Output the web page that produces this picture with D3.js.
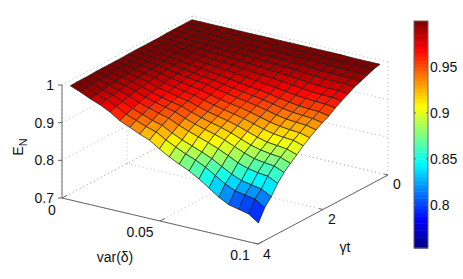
<!DOCTYPE html>
<meta charset="utf-8">
<title>E_N surface</title>
<head>
    <script src="https://d3js.org/d3.v7.min.js"></script>
</head>
<body style="margin: 0px; background: #fff">
<script>

    var varValues = d3.range(20).map(function (i) { return i * 0.00505; });
    var tValues = d3.range(20).map(function (j) { return j * 0.197; });
    var varTicks = [0, 0.05, 0.1];
    var varTickLabels = ["0", "0.05", "0.1"];
    var tTicks = [0, 2, 4];
    var zTicks = [0.7, 0.8, 0.9, 1];
    var barTicks = [0.8, 0.85, 0.9, 0.95];

    // one row per t value, one column per var value
    var row00 = [.990,.990,.990,.990,.990,.990,.990,.990,.990,.990,.990,.990,.990,.990,.990,.990,.989,.989,.989,.989];
    var row01 = [.990,.990,.989,.989,.989,.989,.988,.988,.988,.988,.987,.987,.987,.987,.986,.986,.986,.985,.985,.985];
    var row02 = [.990,.989,.989,.988,.988,.987,.986,.986,.985,.984,.984,.983,.983,.982,.981,.980,.979,.979,.979,.978];
    var row03 = [.990,.989,.988,.987,.986,.985,.984,.983,.982,.981,.980,.979,.978,.977,.976,.974,.973,.973,.972,.971];
    var row04 = [.990,.989,.987,.986,.985,.983,.982,.981,.980,.978,.977,.976,.974,.973,.971,.969,.968,.967,.967,.965];
    var row05 = [.989,.988,.986,.985,.983,.981,.979,.978,.976,.974,.972,.970,.968,.966,.964,.961,.959,.958,.958,.955];
    var row06 = [.989,.988,.985,.984,.981,.978,.976,.974,.973,.970,.967,.965,.963,.960,.957,.954,.951,.950,.949,.946];
    var row07 = [.989,.987,.984,.982,.980,.976,.973,.971,.969,.965,.962,.959,.956,.953,.949,.945,.943,.941,.940,.936];
    var row08 = [.989,.986,.983,.981,.977,.973,.970,.967,.964,.960,.956,.952,.949,.945,.940,.936,.932,.930,.929,.924];
    var row09 = [.989,.986,.982,.979,.975,.970,.967,.963,.960,.955,.951,.947,.943,.939,.934,.928,.924,.922,.920,.915];
    var row10 = [.989,.985,.981,.978,.973,.968,.964,.960,.957,.951,.946,.941,.937,.932,.926,.920,.915,.913,.911,.905];
    var row11 = [.988,.985,.980,.976,.971,.965,.960,.956,.952,.945,.939,.934,.930,.924,.917,.910,.905,.902,.900,.893];
    var row12 = [.988,.984,.979,.974,.969,.961,.956,.951,.947,.940,.933,.927,.922,.916,.908,.900,.894,.891,.889,.881];
    var row13 = [.988,.983,.977,.972,.966,.957,.952,.946,.941,.933,.925,.919,.913,.906,.897,.888,.881,.878,.875,.866];
    var row14 = [.988,.982,.976,.970,.963,.954,.947,.941,.936,.926,.918,.911,.904,.896,.886,.876,.869,.865,.862,.852];
    var row15 = [.988,.981,.974,.968,.960,.950,.943,.936,.930,.919,.910,.902,.895,.886,.875,.864,.855,.851,.848,.837];
    var row16 = [.987,.980,.972,.965,.956,.945,.937,.929,.922,.910,.900,.891,.882,.872,.860,.847,.838,.833,.830,.817];
    var row17 = [.987,.979,.969,.962,.951,.938,.929,.919,.912,.898,.886,.876,.866,.855,.840,.826,.815,.810,.805,.791];
    var row18 = [.987,.978,.967,.959,.947,.932,.922,.912,.904,.889,.876,.864,.854,.841,.825,.809,.797,.792,.787,.771];
    var row19 = [.986,.976,.964,.954,.941,.924,.913,.901,.891,.874,.859,.846,.834,.819,.801,.783,.769,.763,.757,.739];
    var rows = [row00, row01, row02, row03, row04, row05, row06, row07, row08, row09,
        row10, row11, row12, row13, row14, row15, row16, row17, row18, row19];

    var width = 463,
            height = 279;

    var svg = d3.select("body").append("svg")
            .attr("width", width)
            .attr("height", height)
            .style("display", "block")
            .style("font-family", "'Liberation Sans', Arial, sans-serif")
            .style("font-size", "14px")
            .style("fill", "#111");

    // orthographic view: screen position is a sum of one scale per data axis
    var xVar = d3.scaleLinear().domain([0, 0.1]).range([62, 258]),
            xT = d3.scaleLinear().domain([4, 0]).range([0, 130]),
            yVar = d3.scaleLinear().domain([0, 0.1]).range([198, 244]),
            yT = d3.scaleLinear().domain([4, 0]).range([0, -69]),
            yZ = d3.scaleLinear().domain([0.7, 1]).range([0, -113]);

    function px(v, t) { return xVar(v) + xT(t); }
    function py(v, t, z) { return yVar(v) + yT(t) + yZ(z); }

    function jet(f) {
        var c = function (d) { return Math.round(255 * Math.max(0, Math.min(1, 1.5 - Math.abs(4 * f - d)))); };
        return "rgb(" + c(3) + "," + c(2) + "," + c(1) + ")";
    }
    var surfaceColor = d3.scaleLinear().domain([0.745, 0.985]).range([0, 1]).clamp(true);

    function line3d(a, b, cls) {
        return svg.append("line")
                .attr("x1", px(a[0], a[1])).attr("y1", py(a[0], a[1], a[2]))
                .attr("x2", px(b[0], b[1])).attr("y2", py(b[0], b[1], b[2]))
                .attr("class", cls);
    }

    // dotted grid on the two back walls and the floor
    zTicks.forEach(function (z) {
        line3d([0, 4, z], [0, 0, z], "grid");
        line3d([0, 0, z], [0.1, 0, z], "grid");
    });
    tTicks.forEach(function (t) {
        line3d([0, t, 0.7], [0, t, 1], "grid");
        line3d([0, t, 0.7], [0.1, t, 0.7], "grid");
    });
    varTicks.forEach(function (v) {
        line3d([v, 0, 0.7], [v, 0, 1], "grid");
        line3d([v, 4, 0.7], [v, 0, 0.7], "grid");
    });
    svg.selectAll(".grid")
            .attr("stroke", "#bbb")
            .attr("stroke-width", 1)
            .attr("stroke-dasharray", "1 3");

    // solid axes and ticks
    line3d([0, 4, 0.7], [0, 4, 1], "axis");
    line3d([0, 4, 0.7], [0.1, 4, 0.7], "axis");
    line3d([0.1, 4, 0.7], [0.1, 0, 0.7], "axis");
    varTicks.forEach(function (v) { line3d([v, 4, 0.7], [v, 3.85, 0.7], "axis"); });
    tTicks.forEach(function (t) { line3d([0.1, t, 0.7], [0.098, t, 0.7], "axis"); });
    zTicks.forEach(function (z) {
        svg.append("line")
                .attr("x1", px(0, 4) - 4).attr("x2", px(0, 4))
                .attr("y1", py(0, 4, z)).attr("y2", py(0, 4, z))
                .attr("class", "axis");
    });
    svg.selectAll(".axis")
            .attr("stroke", "#666")
            .attr("stroke-width", 1);

    // surface, back cells first. A face takes the colour of its first vertex
    var cells = [];
    for (var j = 0; j < tValues.length - 1; j++) {
        for (var i = 0; i < varValues.length - 1; i++) {
            cells.push({i: i, j: j});
        }
    }
    cells.sort(function (a, b) { return (a.i + a.j) - (b.i + b.j); });

    svg.append("g").selectAll("path")
            .data(cells)
            .enter().append("path")
            .attr("d", function (d) {
                var corners = [[d.i, d.j], [d.i + 1, d.j], [d.i + 1, d.j + 1], [d.i, d.j + 1]];
                return d3.line()(corners.map(function (c) {
                    var v = varValues[c[0]], t = tValues[c[1]];
                    return [px(v, t), py(v, t, rows[c[1]][c[0]])];
                })) + "Z";
            })
            .attr("fill", function (d) { return jet(surfaceColor(rows[d.j][d.i])); })
            .attr("stroke", "#1a1a1a")
            .attr("stroke-width", 0.7)
            .attr("stroke-linejoin", "round");

    // tick labels
    zTicks.forEach(function (z) {
        svg.append("text")
                .attr("x", 54).attr("y", py(0, 4, z) + 5)
                .attr("text-anchor", "end")
                .text(z);
    });
    var varLabelPos = [[52, 215], [140, 237], [240, 260]];
    varTicks.forEach(function (v, k) {
        svg.append("text")
                .attr("x", varLabelPos[k][0]).attr("y", varLabelPos[k][1])
                .attr("text-anchor", "middle")
                .text(varTickLabels[k]);
    });
    var tLabelPos = [[397, 189], [332, 224], [267, 259]];
    tTicks.forEach(function (t, k) {
        svg.append("text")
                .attr("x", tLabelPos[k][0]).attr("y", tLabelPos[k][1])
                .attr("text-anchor", "middle")
                .text(t);
    });

    // axis labels
    svg.append("text").attr("x", 115).attr("y", 262)
            .attr("text-anchor", "middle")
            .text("var(δ)");
    svg.append("text").attr("x", 345).attr("y", 252)
            .attr("text-anchor", "middle")
            .text("γt");
    var zLabel = svg.append("text")
            .attr("transform", "translate(23,147) rotate(-90)")
            .attr("text-anchor", "middle");
    zLabel.append("tspan").text("E");
    zLabel.append("tspan").attr("dy", 4).style("font-size", "11px").text("N");

    // colorbar
    var barY = d3.scaleLinear().domain([0.753, 1]).range([248, 21]);
    var barBands = d3.range(64);
    var bandY = d3.scaleBand().domain(barBands).range([248, 21]);
    svg.append("g").selectAll("rect")
            .data(barBands)
            .enter().append("rect")
            .attr("x", 414)
            .attr("width", 14)
            .attr("y", function (d) { return bandY(d); })
            .attr("height", bandY.bandwidth() + 0.5)
            .attr("fill", function (d) { return jet((d + 0.5) / 64); });
    svg.append("rect")
            .attr("x", 414).attr("y", 21).attr("width", 14).attr("height", 227)
            .attr("fill", "none").attr("stroke", "#666");
    barTicks.forEach(function (b) {
        svg.append("line").attr("x1", 414).attr("x2", 416)
                .attr("y1", barY(b)).attr("y2", barY(b)).attr("stroke", "#666");
        svg.append("line").attr("x1", 426).attr("x2", 428)
                .attr("y1", barY(b)).attr("y2", barY(b)).attr("stroke", "#666");
        svg.append("text")
                .attr("x", 430).attr("y", barY(b) + 5)
                .text(b);
    });

</script>
</body>
